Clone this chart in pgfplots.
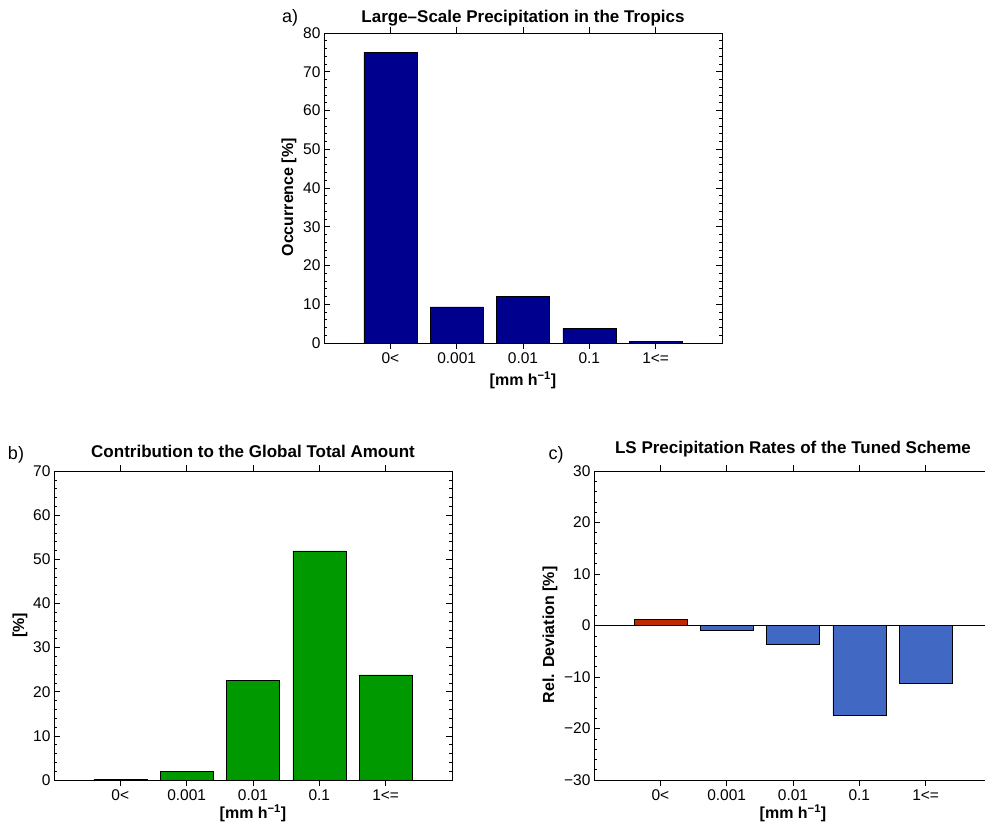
\documentclass[border=0pt]{standalone}
\usepackage{pgfplots}
\pgfplotsset{compat=1.18}
\usepackage{fontspec}
\setmainfont{Liberation Sans}
\definecolor{navyb}{HTML}{00008F}
\definecolor{greenb}{HTML}{009A00}
\definecolor{redb}{HTML}{C02800}
\definecolor{blueb}{HTML}{4169C4}
\pgfplotsset{
  mystyle/.style={
    scale only axis, width=398pt, height=309pt, anchor=south west,
    xmin=0, xmax=6, xtick={1,2,3,4,5}, xticklabels={0<,0.001,0.01,0.1,1<=},
    tick align=inside, xtick pos=both, ytick pos=both,
    minor y tick num=4, major tick length=6pt, minor tick length=3pt,
    every tick/.style={black, line width=0.6pt},
    axis line style={line width=0.9pt},
    ybar, bar width=0.8, bar shift=0pt,
    tick label style={font=\fontsize{15.5}{16}\selectfont},
    /pgf/number format/assume math mode=true,
    xlabel={[mm h\textsuperscript{−1}]},
    xlabel style={font=\fontsize{16}{17}\bfseries, at={(rel axis cs:0.5,0)}, anchor=center},
    ylabel style={font=\fontsize{16}{17}\bfseries, anchor=center},
    title style={font=\fontsize{17}{18}\bfseries, at={(rel axis cs:0.5,1)}, anchor=south, yshift=4pt},
    every axis plot/.append style={draw=black, line width=0.6pt},
  }
}
\begin{document}
\begin{tikzpicture}
\begin{axis}[mystyle, at={(324pt,485pt)}, height=310pt,
  ymin=0, ymax=80, ytick={0,10,...,80},
  title={Large–Scale Precipitation in the Tropics},
  title style={yshift=-7pt},
  ylabel={Occurrence [\%]},
  ylabel style={at={(axis description cs:-0.088,0.47)}},
  xlabel style={yshift=-37pt}]
\addplot[fill=navyb] coordinates {(1,75.0) (2,9.3) (3,12.0) (4,3.8) (5,0.4)};
\end{axis}
\begin{axis}[mystyle, at={(54pt,48pt)},
  ymin=0, ymax=70, ytick={0,10,...,70},
  title={Contribution to the Global Total Amount},
  ylabel={[\%]},
  ylabel style={at={(axis description cs:-0.0854,0.5)}},
  xlabel style={yshift=-33pt}]
\addplot[fill=greenb] coordinates {(1,0.2) (2,2.0) (3,22.6) (4,51.9) (5,23.8)};
\end{axis}
\begin{axis}[mystyle, at={(594pt,48pt)},
  ymin=-30, ymax=30, ytick={-30,-20,...,30},
  yticklabels={−30,−20,−10,0,10,20,30},
  title={LS Precipitation Rates of the Tuned Scheme},
  ylabel={Rel. Deviation [\%]},
  ylabel style={at={(axis description cs:-0.1106,0.47)}},
  xlabel style={yshift=-33pt}]
\draw[black, line width=0.6pt] (axis cs:0,0) -- (axis cs:6,0);
\addplot[fill=redb] coordinates {(1,1.3)};
\addplot[fill=blueb] coordinates {(2,-1.0) (3,-3.7) (4,-17.5) (5,-11.3)};
\end{axis}
\node[font=\fontsize{18}{18}\selectfont] at (290pt,810pt) {a)};
\node[font=\fontsize{18}{18}\selectfont] at (16pt,373pt) {b)};
\node[font=\fontsize{18}{18}\selectfont] at (556pt,373pt) {c)};
\pgfresetboundingbox
\path (0pt,0pt) rectangle (985pt,828pt);
\end{tikzpicture}
\end{document}
